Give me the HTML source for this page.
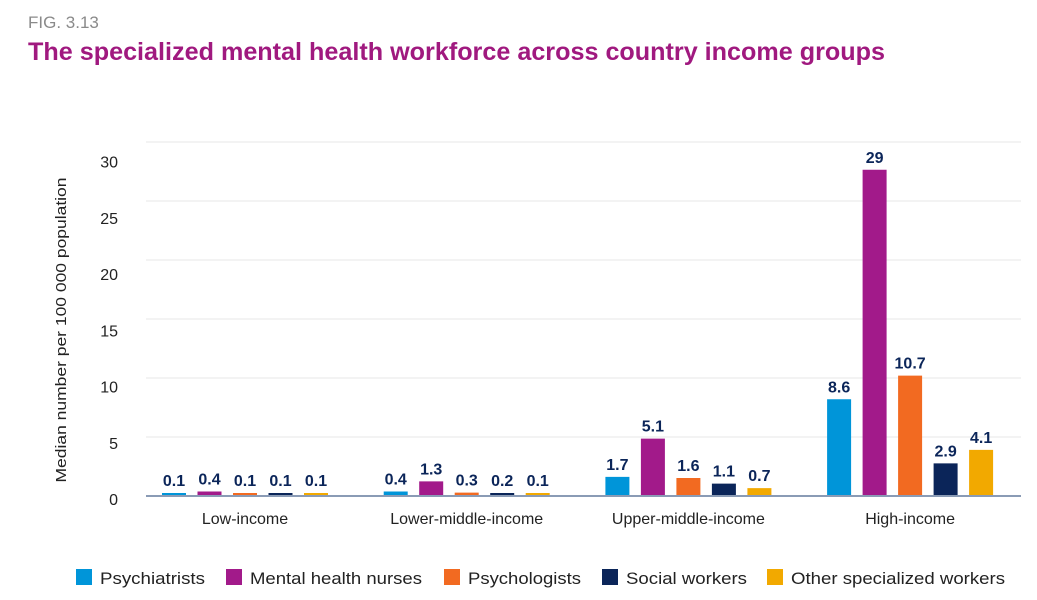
<!DOCTYPE html>
<html><head><meta charset="utf-8"><style>
body{margin:0;background:#fff;}
svg{display:block;font-family:"Liberation Sans",sans-serif;}
</style></head><body>
<svg id="chart" width="1037" height="600" viewBox="0 0 1037 600">
<text x="28" y="28" font-size="17" fill="#8a8a8a">FIG. 3.13</text>
<text x="28" y="60" font-size="25" font-weight="bold" fill="#a0197f" textLength="857" lengthAdjust="spacingAndGlyphs">The specialized mental health workforce across country income groups</text>
<text transform="translate(66,330) rotate(-90)" text-anchor="middle" font-size="15" fill="#222" textLength="305" lengthAdjust="spacingAndGlyphs">Median number per 100 000 population</text>
<g id="grid"></g><g id="bars"></g><g id="labels"></g>
<g id="legend"></g>
</svg>
<script>
const categories = ["Low-income","Lower-middle-income","Upper-middle-income","High-income"];
const seriesNames = ["Psychiatrists","Mental health nurses","Psychologists","Social workers","Other specialized workers"];
const psychiatrists = [0.1,0.4,1.7,8.6];
const nurses = [0.4,1.3,5.1,29];
const psychologists = [0.1,0.3,1.6,10.7];
const socialWorkers = [0.1,0.2,1.1,2.9];
const otherWorkers = [0.1,0.1,0.7,4.1];
const valueLabels = [["0.1","0.4","1.7","8.6"],["0.4","1.3","5.1","29"],["0.1","0.3","1.6","10.7"],["0.1","0.2","1.1","2.9"],["0.1","0.1","0.7","4.1"]];
const yTicks = [0,5,10,15,20,25,30];
const series = [psychiatrists,nurses,psychologists,socialWorkers,otherWorkers];
const colors = ["#0095d9","#a21a8a","#f26a21","#0b2559","#f2a900"];
const NS="http://www.w3.org/2000/svg";
function mk(t,a,p){const e=document.createElementNS(NS,t);for(const k in a)e.setAttribute(k,a[k]);p.appendChild(e);return e;}
const y0=496, pxPer=11.25;
const yScale=v=>y0-v*pxPer;
const xCenter=i=>245+i*221.7;
const offsets=[-83,-47.5,-12,23.5,59];
const bw=24;
const grid=document.getElementById('grid');
yTicks.forEach((t,k)=>{
  if(k>0){const gy=y0-59*k;const l=mk('line',{x1:146,x2:1021,y1:gy,y2:gy,stroke:'#ececec','stroke-width':1.2},grid);
  
  }
  const tx=mk('text',{x:118,y:yScale(t)+9,'text-anchor':'end','font-size':16,fill:'#222'},grid);
  tx.textContent=t;
  
  
});
const bars=document.getElementById('bars'), labels=document.getElementById('labels');
categories.forEach((c,i)=>{
  series.forEach((s,j)=>{
    const x=xCenter(i)+offsets[j];
    const h=Math.max(3,s[i]*pxPer);
    const r=mk('rect',{x:x,y:y0-h,width:bw,height:h,fill:colors[j]},bars);
    
    
    const t=mk('text',{x:x+bw/2,y:y0-h-7,'text-anchor':'middle','font-size':16,'font-weight':'bold',fill:'#0b2559'},labels);
    t.textContent=valueLabels[j][i];
    
    
  });
  const ct=mk('text',{x:xCenter(i),y:524,'text-anchor':'middle','font-size':16,fill:'#222'},labels);
  ct.textContent=c;
  
  
});
const ax=mk('line',{x1:146,x2:1021,y1:y0,y2:y0,stroke:'#8a9bb5','stroke-width':2},labels);


const legend=document.getElementById('legend');
const lx=[76,226,444,602,767];
const lw=[105,172,113,121,214];
seriesNames.forEach((n,j)=>{
  const g=mk('g',{},legend);
  
  
  mk('rect',{x:lx[j],y:569,width:16,height:16,fill:colors[j]},g);
  const t=mk('text',{x:lx[j]+24,y:584,'font-size':17,fill:'#222',textLength:lw[j],lengthAdjust:'spacingAndGlyphs'},g);
  t.textContent=n;
});
</script>
</body></html>
